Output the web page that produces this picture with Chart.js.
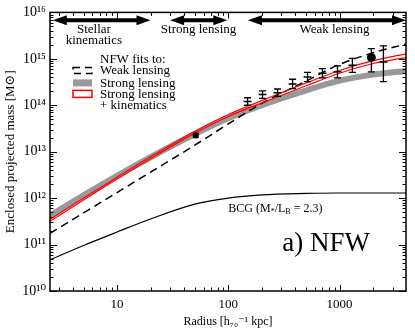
<!DOCTYPE html>
<html>
<head>
<meta charset="utf-8">
<script src="https://cdn.jsdelivr.net/npm/chart.js@4.4.0/dist/chart.umd.min.js"></script>
<style>
  html, body { margin: 0; padding: 0; background: #fff; }
</style>
</head>
<body>
<canvas id="myChart" width="415" height="332"></canvas>
<script>
const radii = [2.5, 5, 10, 20, 50, 100, 200, 500, 1000, 2000, 4000];
// NFW fit to weak lensing (dashed)
const weakFit = [1.74e11, 4.79e11, 1.32e12, 3.63e12, 1.38e13, 3.98e13, 1.10e14, 3.31e14, 7.59e14, 1.35e15, 2.09e15];
// NFW fit to strong lensing (grey band)
const strongFit = [4.17e11, 1.15e12, 3.02e12, 7.59e12, 2.40e13, 5.25e13, 1.0e14, 2.09e14, 3.39e14, 4.57e14, 5.50e14];
// NFW fit to strong lensing + kinematics (red band edges)
const strongKinHi = [3.47e11, 1.0e12, 2.82e12, 7.76e12, 2.75e13, 6.31e13, 1.26e14, 3.02e14, 5.62e14, 9.12e14, 1.29e15];
const strongKinLo = [3.16e11, 9.12e11, 2.57e12, 7.08e12, 2.51e13, 5.75e13, 1.12e14, 2.63e14, 4.90e14, 7.94e14, 1.07e15];
// BCG stellar mass
const bcgMass = [4.68e10, 9.55e10, 1.86e11, 3.55e11, 7.41e11, 1.0e12, 1.17e12, 1.26e12, 1.29e12, 1.29e12, 1.29e12];

// weak lensing measurements
const wlRadius = [149, 203, 277, 378, 515, 701, 957, 1303, 2475];
const wlMass = [1.20e14, 1.70e14, 1.86e14, 2.88e14, 4.07e14, 4.90e14, 5.25e14, 7.24e14, 8.51e14];
const wlLo = [1.0e14, 1.41e14, 1.55e14, 2.29e14, 3.24e14, 3.89e14, 3.89e14, 5.13e14, 3.24e14];
const wlHi = [1.45e14, 2.04e14, 2.24e14, 3.63e14, 5.13e14, 6.17e14, 7.08e14, 1.02e15, 1.91e15];
// filled circle point
const dotRadius = [1930];
const dotMass = [1.07e15];
const dotLo = [5.25e14];
const dotHi = [1.66e15];
// strong lensing point
const slRadius = [51];
const slMass = [2.24e13];

const xTickVals = [10, 100, 1000];
const yTickExps = [10, 11, 12, 13, 14, 15, 16];

const serif = "'Liberation Serif', 'DejaVu Serif', serif";
const sup = { '0': '⁰', '1': '¹', '2': '²', '3': '³', '4': '⁴', '5': '⁵', '6': '⁶', '7': '⁷', '8': '⁸', '9': '⁹', '-': '⁻' };

function pts(xs, ys) {
    return xs.map((x, i) => ({ x: x, y: ys[i] }));
}

// range arrows along the top
const arrowSpans = [[2.65, 20], [30, 98], [150, 3950]];
const arrowMass = 6.8e15;
const topLabels = [
    { text: 'Stellar', r: 6.2, m: 4.17e15 },
    { text: 'kinematics', r: 6.2, m: 2.45e15 },
    { text: 'Strong lensing', r: 54, m: 4.17e15 },
    { text: 'Weak lensing', r: 900, m: 4.17e15 }
];

// error bars + arrows + text
const extras = {
    id: 'extras',
    afterDatasetsDraw(chart) {
        const { ctx, scales: { x, y }, chartArea: a } = chart;
        ctx.save();

        // error bars
        ctx.strokeStyle = '#000';
        ctx.lineWidth = 1.3;
        chart.data.datasets.forEach(ds => {
            if (!ds.errLo) return;
            ds.data.forEach((p, i) => {
                const px = x.getPixelForValue(p.x);
                const lo = y.getPixelForValue(ds.errLo[i]);
                const hi = y.getPixelForValue(ds.errHi[i]);
                ctx.beginPath();
                ctx.moveTo(px, lo); ctx.lineTo(px, hi);
                ctx.moveTo(px - 3.5, lo); ctx.lineTo(px + 3.5, lo);
                ctx.moveTo(px - 3.5, hi); ctx.lineTo(px + 3.5, hi);
                ctx.stroke();
            });
        });

        // arrows
        ctx.fillStyle = '#000';
        const ay = y.getPixelForValue(arrowMass);
        arrowSpans.forEach(s => {
            const x1 = x.getPixelForValue(s[0]);
            const x2 = x.getPixelForValue(s[1]);
            ctx.lineWidth = 4;
            ctx.beginPath();
            ctx.moveTo(x1 + 10, ay); ctx.lineTo(x2 - 10, ay);
            ctx.stroke();
            ctx.beginPath();
            ctx.moveTo(x1, ay); ctx.lineTo(x1 + 14, ay - 5); ctx.lineTo(x1 + 14, ay + 5); ctx.closePath();
            ctx.moveTo(x2, ay); ctx.lineTo(x2 - 14, ay - 5); ctx.lineTo(x2 - 14, ay + 5); ctx.closePath();
            ctx.fill();
        });

        ctx.font = '13px ' + serif;
        ctx.textAlign = 'center';
        ctx.textBaseline = 'middle';
        topLabels.forEach(l => {
            ctx.fillText(l.text, x.getPixelForValue(l.r), y.getPixelForValue(l.m));
        });

        // BCG label with subscripts
        let bx = x.getPixelForValue(100);
        const by = y.getPixelForValue(5.9e11);
        ctx.textAlign = 'left';
        const parts = [['BCG (M', 0], ['*', 1], ['/L', 0], ['B', 1], [' = 2.3)', 0]];
        parts.forEach(pt => {
            ctx.font = (pt[1] ? '8px ' : '12px ') + serif;
            ctx.fillText(pt[0], bx, by + (pt[1] ? 3 : 0));
            bx += ctx.measureText(pt[0]).width;
        });

        // panel label
        ctx.font = '27px ' + serif;
        ctx.fillText('a) NFW', x.getPixelForValue(305), y.getPixelForValue(1.02e11));

        // legend
        const lx = a.left + 23, tx = a.left + 50;
        ctx.font = '13px ' + serif;
        ctx.fillText('NFW fits to:', tx, a.top + 47);
        ctx.fillText('Weak lensing', tx, a.top + 58);
        ctx.fillText('Strong lensing', tx, a.top + 71);
        ctx.fillText('Strong lensing', tx, a.top + 82);
        ctx.fillText('+ kinematics', tx, a.top + 93);
        ctx.lineWidth = 1.5;
        ctx.setLineDash([7, 5]);
        ctx.strokeRect(lx, a.top + 55, 19, 6);
        ctx.setLineDash([]);
        ctx.fillStyle = '#999';
        ctx.fillRect(lx, a.top + 67, 19, 7);
        ctx.strokeStyle = '#f00';
        ctx.strokeRect(lx, a.top + 78, 19, 7);

        ctx.restore();
    }
};

// inward ticks on all four sides + frame
const frameTicks = {
    id: 'frameTicks',
    afterDraw(chart) {
        const { ctx, chartArea: a, scales: { x, y } } = chart;
        ctx.save();
        ctx.strokeStyle = '#000';
        ctx.lineWidth = 1;
        ctx.beginPath();
        for (let e = 0; e <= 3; e++) {
            for (let k = 1; k < 10; k++) {
                const v = k * Math.pow(10, e);
                if (v < x.min || v > x.max) continue;
                const px = Math.round(x.getPixelForValue(v)) + 0.5;
                const len = k === 1 ? 6 : 3.5;
                ctx.moveTo(px, a.bottom); ctx.lineTo(px, a.bottom - len);
                ctx.moveTo(px, a.top); ctx.lineTo(px, a.top + len);
            }
        }
        for (let e = 10; e <= 16; e++) {
            for (let k = 1; k < 10; k++) {
                const v = k * Math.pow(10, e);
                if (v < y.min || v > y.max) continue;
                const py = Math.round(y.getPixelForValue(v)) + 0.5;
                const len = k === 1 ? 7 : 3.5;
                ctx.moveTo(a.left, py); ctx.lineTo(a.left + len, py);
                ctx.moveTo(a.right, py); ctx.lineTo(a.right - len, py);
            }
        }
        ctx.stroke();
        ctx.lineWidth = 1.5;
        ctx.strokeRect(a.left, a.top, a.right - a.left, a.bottom - a.top);
        ctx.restore();
    }
};

const curve = (data, color, width, order, dash) => ({
    data: data,
    showLine: true,
    borderColor: color,
    borderWidth: width,
    borderDash: dash || [],
    pointRadius: 0,
    cubicInterpolationMode: 'monotone',
    order: order
});

const ctx = document.getElementById('myChart').getContext('2d');
new Chart(ctx, {
    type: 'scatter',
    data: {
        datasets: [
            {
                data: pts(wlRadius, wlMass),
                pointStyle: 'line', pointRadius: 4, borderColor: '#000', borderWidth: 1.5,
                errLo: wlLo, errHi: wlHi, order: 0
            },
            {
                data: pts(dotRadius, dotMass),
                pointStyle: 'circle', pointRadius: 4, backgroundColor: '#000', borderColor: '#000',
                errLo: dotLo, errHi: dotHi, order: 0
            },
            {
                data: pts(slRadius, slMass),
                pointStyle: 'rect', pointRadius: 3.5, backgroundColor: '#000', borderColor: '#000', order: 0
            },
            curve(pts(radii, strongKinHi), '#f00', 1.2, 1),
            curve(pts(radii, strongKinLo), '#f00', 1.2, 1),
            curve(pts(radii, weakFit), '#000', 1.5, 2, [8, 5]),
            curve(pts(radii, strongFit), '#999', 6, 3),
            curve(pts(radii, bcgMass), '#000', 1.2, 4)
        ]
    },
    options: {
        responsive: false,
        animation: false,
        devicePixelRatio: 1,
        layout: { padding: { top: 6, right: 9, left: 0, bottom: 0 } },
        plugins: { legend: { display: false }, tooltip: { enabled: false } },
        scales: {
            x: {
                type: 'logarithmic',
                min: 2.5,
                max: 3950,
                grid: { display: false, drawTicks: false },
                border: { display: false },
                afterBuildTicks: s => { s.ticks = xTickVals.map(v => ({ value: v })); },
                afterFit: s => { s.height = 41; },
                ticks: {
                    autoSkip: false, maxRotation: 0, padding: 6, color: '#000',
                    font: { family: serif, size: 13 },
                    callback: v => String(v)
                },
                title: {
                    display: true, text: 'Radius [h₇₀⁻¹ kpc]', color: '#000',
                    font: { family: serif, size: 12 }, padding: { top: 0, bottom: 3 }
                }
            },
            y: {
                type: 'logarithmic',
                min: 1e10,
                max: 1e16,
                grid: { display: false, drawTicks: false },
                border: { display: false },
                afterBuildTicks: s => { s.ticks = yTickExps.map(e => ({ value: Math.pow(10, e) })); },
                afterFit: s => { s.width = 50; },
                ticks: {
                    autoSkip: false, padding: 4, color: '#000',
                    font: { family: serif, size: 14 },
                    callback: v => '10' + String(Math.round(Math.log10(v))).split('').map(c => sup[c]).join('')
                },
                title: {
                    display: true, text: 'Enclosed projected mass [M⊙]', color: '#000',
                    font: { family: serif, size: 13 }, padding: { top: 3, bottom: 0 }
                }
            }
        }
    },
    plugins: [extras, frameTicks]
});
</script>
</body>
</html>
